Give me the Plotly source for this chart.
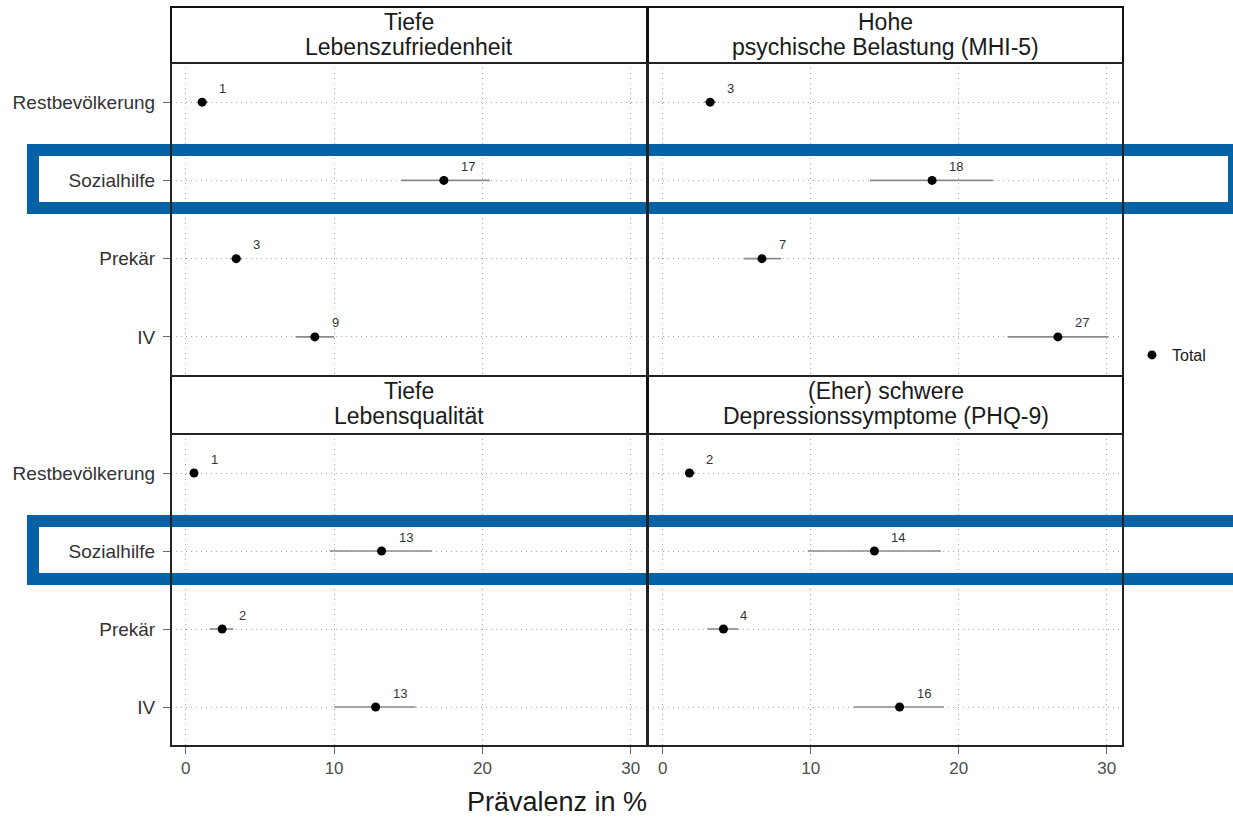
import plotly.graph_objects as go

# ---------------- data ----------------
categories = ["Restbevölkerung", "Sozialhilfe", "Prekär", "IV"]

panel_titles = [
    ["Tiefe", "Lebenszufriedenheit"],
    ["Hohe", "psychische Belastung (MHI-5)"],
    ["Tiefe", "Lebensqualität"],
    ["(Eher) schwere", "Depressionssymptome (PHQ-9)"],
]

# estimates and confidence bounds per panel (order: tl, tr, bl, br)
est_lebenszufriedenheit = [1.1, 17.4, 3.4, 8.7]
lo_lebenszufriedenheit = [0.8, 14.5, 3.0, 7.4]
hi_lebenszufriedenheit = [1.5, 20.5, 3.8, 10.0]

est_belastung = [3.2, 18.2, 6.7, 26.7]
lo_belastung = [2.8, 14.0, 5.5, 23.3]
hi_belastung = [3.6, 22.3, 8.0, 30.1]

est_lebensqualitaet = [0.55, 13.2, 2.45, 12.8]
lo_lebensqualitaet = [0.3, 9.7, 1.6, 10.0]
hi_lebensqualitaet = [0.8, 16.6, 3.2, 15.5]

est_depression = [1.8, 14.3, 4.1, 16.0]
lo_depression = [1.5, 9.8, 3.0, 12.9]
hi_depression = [2.2, 18.8, 5.1, 19.0]

x_ticks = [0, 10, 20, 30]
legend_name = "Total"
x_title = "Prävalenz in %"

panels = [
    (est_lebenszufriedenheit, lo_lebenszufriedenheit, hi_lebenszufriedenheit),
    (est_belastung, lo_belastung, hi_belastung),
    (est_lebensqualitaet, lo_lebensqualitaet, hi_lebensqualitaet),
    (est_depression, lo_depression, hi_depression),
]

# ---------------- layout geometry (pixels) ----------------
W, H = 1233, 819
FONT = "Liberation Sans, Arial, sans-serif"
BLUE = "#0562A5"
GRID = "#a8a8a8"
GRID_DASH = "1px,4px"


def fx(p):
    return p / W


def fy(p):
    return 1 - p / H


col_px = [(171, 647), (648, 1123)]
row_px = [(63, 376), (434, 746)]
strip_px = [(7, 63), (376, 434)]

fig = go.Figure()
annotations = []
shapes = []

for i, (est, lo, hi) in enumerate(panels):
    r, c = divmod(i, 2)
    sfx = "" if i == 0 else str(i + 1)
    xa, ya = "x" + sfx, "y" + sfx
    fig.add_trace(go.Scatter(
        x=est, y=categories, mode="markers",
        marker=dict(color="black", size=9),
        error_x=dict(type="data", symmetric=False,
                     array=[h - e for h, e in zip(hi, est)],
                     arrayminus=[e - l for e, l in zip(est, lo)],
                     color="#8a8a8a", thickness=1.6, width=0),
        name=legend_name, showlegend=(i == 0),
        xaxis=xa, yaxis=ya, hoverinfo="x+y",
    ))
    for v, cat in zip(est, categories):
        annotations.append(dict(
            x=v, y=cat, xref=xa, yref=ya, text=str(int(v + 0.5)),
            showarrow=False, xanchor="left", yanchor="middle",
            xshift=15, yshift=14,
            font=dict(family=FONT, size=13, color="#333333")))

    x0p, x1p = col_px[c]
    y0p, y1p = row_px[r]
    xaxis = dict(
        domain=[fx(x0p), fx(x1p)], range=[-1.0, 31.1],
        tickvals=x_ticks, showgrid=True, gridcolor=GRID,
        griddash=GRID_DASH, gridwidth=1.2, zeroline=False, showline=False,
        anchor=ya, fixedrange=True,
        showticklabels=(r == 1), ticks="outside" if r == 1 else "",
        ticklen=7, tickcolor="#666666", tickwidth=1,
        tickfont=dict(family=FONT, size=17, color="#4d4d4d"),
    )
    yaxis = dict(
        domain=[fy(y1p), fy(y0p)], type="category",
        categoryorder="array", categoryarray=categories[::-1],
        range=[-0.5, 3.5],
        showgrid=True, gridcolor=GRID, griddash=GRID_DASH, gridwidth=1.2,
        zeroline=False, showline=False, anchor=xa, fixedrange=True,
        showticklabels=(c == 0), ticks="outside" if c == 0 else "",
        ticklen=7, tickcolor="#666666", tickwidth=1,
        ticklabelstandoff=4,
        tickfont=dict(family=FONT, size=19, color="#333333"),
    )
    fig.layout["xaxis" + sfx] = xaxis
    fig.layout["yaxis" + sfx] = yaxis

    # strip header
    s0, s1 = strip_px[r]
    shapes.append(dict(type="rect", xref="paper", yref="paper",
                       x0=fx(x0p), x1=fx(x1p), y0=fy(s1), y1=fy(s0),
                       line=dict(color="#111111", width=2), fillcolor="white",
                       layer="above"))
    line1, line2 = panel_titles[i]
    xc = fx((x0p + x1p) / 2)
    annotations.append(dict(x=xc, y=fy(s0 + 15), xref="paper", yref="paper",
                            text=line1, showarrow=False, xanchor="center",
                            yanchor="middle",
                            font=dict(family=FONT, size=23, color="#1a1a1a")))
    annotations.append(dict(x=xc, y=fy(s0 + 40), xref="paper", yref="paper",
                            text=line2, showarrow=False, xanchor="center",
                            yanchor="middle",
                            font=dict(family=FONT, size=23, color="#1a1a1a")))

# blue highlight boxes
shapes.append(dict(type="rect", xref="paper", yref="paper",
                   x0=fx(33), x1=fx(1234), y0=fy(208), y1=fy(150),
                   line=dict(color=BLUE, width=12), fillcolor="rgba(0,0,0,0)",
                   layer="above"))
shapes.append(dict(type="rect", xref="paper", yref="paper",
                   x0=fx(33), x1=fx(1260), y0=fy(579), y1=fy(521),
                   line=dict(color=BLUE, width=12), fillcolor="rgba(0,0,0,0)",
                   layer="above"))

# panel borders (drawn over the highlight boxes)
for r in range(2):
    for c in range(2):
        x0p, x1p = col_px[c]
        y0p, y1p = row_px[r]
        shapes.append(dict(type="rect", xref="paper", yref="paper",
                           x0=fx(x0p), x1=fx(x1p), y0=fy(y1p), y1=fy(y0p),
                           line=dict(color="#222222", width=2),
                           fillcolor="rgba(0,0,0,0)", layer="above"))

# x axis title
annotations.append(dict(x=fx(557), y=fy(802), xref="paper", yref="paper",
                        text=x_title, showarrow=False, xanchor="center",
                        yanchor="middle",
                        font=dict(family=FONT, size=27, color="#1a1a1a")))

fig.update_layout(
    width=W, height=H,
    margin=dict(l=0, r=0, t=0, b=0),
    paper_bgcolor="white", plot_bgcolor="rgba(0,0,0,0)",
    annotations=annotations, shapes=shapes,
    showlegend=True,
    legend=dict(x=fx(1132), y=fy(355), xanchor="left", yanchor="middle",
                bgcolor="rgba(0,0,0,0)", borderwidth=0,
                font=dict(family=FONT, size=16, color="#1a1a1a"),
                itemclick=False, itemdoubleclick=False),
    font=dict(family=FONT),
)

fig.write_html("out.html")
